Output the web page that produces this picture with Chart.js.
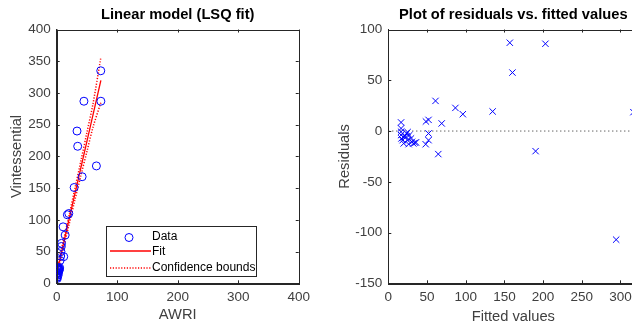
<!DOCTYPE html>
<html>
<head>
<meta charset="utf-8">
<script src="https://cdn.jsdelivr.net/npm/chart.js@4.4.1/dist/chart.umd.min.js"></script>
<style>
  body { margin: 0; background: #fff; overflow: hidden; width: 632px; height: 329px; position: relative; }
  canvas { position: absolute; top: 0; }
  #fit { left: 0; }
  #resid { left: 316px; }
</style>
</head>
<body>
<canvas id="fit" width="316" height="329"></canvas>
<canvas id="resid" width="330" height="329"></canvas>
<script>
// data
const awri = [72.8, 45, 73, 33.6, 34.7, 65.6, 42, 28.8, 20, 17.6, 10.6, 14, 11.6,
  8, 7.6, 7, 6.6, 5.6,
  0.2, 0.2, 0.2, 0.2, 0.4, 0.7, 1.1, 1.2, 1.7, 2, 2.3, 2.3, 2.6, 2.8, 3.3, 3.6, 4, 4.5, 4.8]
const vintessential = [335, 287, 287, 240, 216, 185, 168, 151, 110, 108, 89, 76, 42,
  63, 58, 50, 43, 36,
  25, 19, 16, 12.5, 9.7, 9.5, 7.7, 15, 17, 21, 24, 16, 13.4, 23, 22, 20, 20, 23, 24.6]
const fitted = [316.7, 203, 321, 157, 160.4, 294.4, 190.3, 134.8, 96.3, 86.7, 61, 69, 64.6,
  52, 48.6, 52, 52, 48.3,
  16.5, 16.5, 16.5, 16.5, 17, 18.5, 19.9, 20.7, 22.8, 23.7, 25, 25, 26.3, 27.2, 29.3, 30.6, 32.3, 34.5, 35.8]
const residuals = [18.6, 86, -31, 87, 57.6, -107, -19.8, 19.3, 16.6, 22.8, 29.7, 7.5, -22.7,
  11, 9.4, -2.4, -9, -13,
  8.5, 2.6, -0.7, -4, -7.3, -9, -12.2, -5.6, -5.6, -2.3, -1, -9, -12.9, -4, -7.3, -10.6, -12.2, -11.5, -11.2]

const fitX = [0.2, 73]
const fitY = [16.5, 320]
const boundX = [0.2, 10, 20, 30, 40, 50, 60, 73]
const upperY = [24, 63, 105, 149, 193, 238, 283, 356]
const lowerY = [9, 51, 91, 131, 170, 208, 246, 285]
const zeroX = [0, 323]
const zeroY = [0, 0]

const BLUE = 'rgb(0,0,255)'
const RED = 'rgb(255,0,0)'
const AXIS = '#262626'
const TXT = '#404040'
Chart.defaults.font.family = '"Liberation Sans", Arial, Helvetica, sans-serif'
Chart.defaults.animation = false

function pts(xs, ys) {
  return xs.map((x, i) => ({x: x, y: ys[i]}))
}

// matlab style box with inward ticks
const boxPlugin = {
  id: 'box',
  afterDraw(chart) {
    const {ctx, chartArea: a, scales} = chart
    ctx.save()
    ctx.strokeStyle = AXIS
    ctx.lineWidth = 1
    ctx.strokeRect(Math.round(a.left) + 0.5, Math.round(a.top) + 0.5, Math.round(a.right - a.left), Math.round(a.bottom - a.top))
    ctx.beginPath()
    scales.x.ticks.forEach(t => {
      const px = Math.round(scales.x.getPixelForValue(t.value)) + 0.5
      ctx.moveTo(px, a.bottom); ctx.lineTo(px, a.bottom - 3)
      ctx.moveTo(px, a.top); ctx.lineTo(px, a.top + 3)
    })
    scales.y.ticks.forEach(t => {
      const py = Math.round(scales.y.getPixelForValue(t.value)) + 0.5
      ctx.moveTo(a.left, py); ctx.lineTo(a.left + 3, py)
      ctx.moveTo(a.right, py); ctx.lineTo(a.right - 3, py)
    })
    ctx.stroke()
    ctx.restore()
  }
}

// legend drawn inside the axes like matlab
const legendPlugin = {
  id: 'boxLegend',
  afterDraw(chart) {
    const ctx = chart.ctx
    ctx.save()
    ctx.fillStyle = '#fff'
    ctx.fillRect(106, 226, 150, 50)
    ctx.lineWidth = 1
    ctx.strokeStyle = AXIS
    ctx.strokeRect(106.5, 226.5, 150, 50)
    ctx.beginPath()
    ctx.strokeStyle = BLUE
    ctx.arc(129, 237.5, 4, 0, Math.PI * 2)
    ctx.stroke()
    ctx.lineWidth = 1.6
    ctx.beginPath()
    ctx.strokeStyle = RED
    ctx.moveTo(110, 251); ctx.lineTo(151, 251)
    ctx.stroke()
    ctx.beginPath()
    ctx.setLineDash([1.2, 1.6])
    ctx.moveTo(110, 268); ctx.lineTo(151, 268)
    ctx.stroke()
    ctx.setLineDash([])
    ctx.fillStyle = '#000'
    ctx.font = '12px "Liberation Sans", Arial, sans-serif'
    ctx.textBaseline = 'middle'
    ctx.fillText('Data', 152, 237)
    ctx.fillText('Fit', 152, 252)
    ctx.fillText('Confidence bounds', 152, 268)
    ctx.restore()
  }
}

function axisOpts(min, max, step, label, isX, titlePad, size) {
  return {
    type: 'linear',
    min: min, max: max,
    ticks: {stepSize: step, color: TXT, font: {size: 13.5}, padding: 6, includeBounds: false},
    grid: {display: false, drawTicks: false},
    border: {display: true, color: AXIS},
    title: {display: true, text: label, color: TXT, font: {size: 14.7}, padding: titlePad},
    afterFit: s => { if (isX) s.height = size; else s.width = size }
  }
}

new Chart(document.getElementById('fit'), {
  type: 'scatter',
  data: {
    datasets: [
      {data: pts(awri, vintessential), pointStyle: 'circle', pointRadius: 4, borderColor: BLUE, backgroundColor: 'rgba(0,0,0,0)', borderWidth: 1},
      {data: pts(fitX, fitY), showLine: true, borderColor: RED, borderWidth: 1.3, pointRadius: 0},
      {data: pts(boundX, upperY), showLine: true, borderColor: RED, borderWidth: 1.5, borderDash: [1.2, 1.6], pointRadius: 0, tension: 0.3},
      {data: pts(boundX, lowerY), showLine: true, borderColor: RED, borderWidth: 1.5, borderDash: [1.2, 1.6], pointRadius: 0, tension: 0.3}
    ]
  },
  options: {
    responsive: false,
    events: [],
    layout: {padding: {left: 0, right: 9.3, top: 0, bottom: 0}},
    plugins: {
      legend: {display: false},
      tooltip: {enabled: false},
      title: {display: true, text: 'Linear model (LSQ fit)', color: '#000', font: {size: 14.7, weight: 'bold'}, padding: {top: 6.3, bottom: 5.6}, fullSize: false}
    },
    scales: {
      x: axisOpts(0, 400, 100, 'AWRI', true, {top: 0, bottom: 5}, 45.7),
      y: axisOpts(0, 400, 50, 'Vintessential', false, {top: 8, bottom: 0}, 56.7)
    }
  },
  plugins: [boxPlugin, legendPlugin]
})

new Chart(document.getElementById('resid'), {
  type: 'scatter',
  data: {
    datasets: [
      {data: pts(fitted, residuals), pointStyle: 'crossRot', pointRadius: 4.5, borderColor: BLUE, borderWidth: 1},
      {data: pts(zeroX, zeroY), showLine: true, borderColor: '#222', borderWidth: 1, borderDash: [1, 3], pointRadius: 0}
    ]
  },
  options: {
    responsive: false,
    events: [],
    layout: {padding: {left: 0, right: 7.7, top: 0, bottom: 0}},
    plugins: {
      legend: {display: false},
      tooltip: {enabled: false},
      title: {display: true, text: 'Plot of residuals vs. fitted values', color: '#000', font: {size: 14.7, weight: 'bold'}, padding: {top: 6.3, bottom: 5.6}, fullSize: false}
    },
    scales: {
      x: axisOpts(0, 323, 50, 'Fitted values', true, {top: 0, bottom: 3}, 45.7),
      y: axisOpts(-150, 100, 50, 'Residuals', false, {top: 20, bottom: 0}, 72.3)
    }
  },
  plugins: [boxPlugin]
})
</script>
</body>
</html>
